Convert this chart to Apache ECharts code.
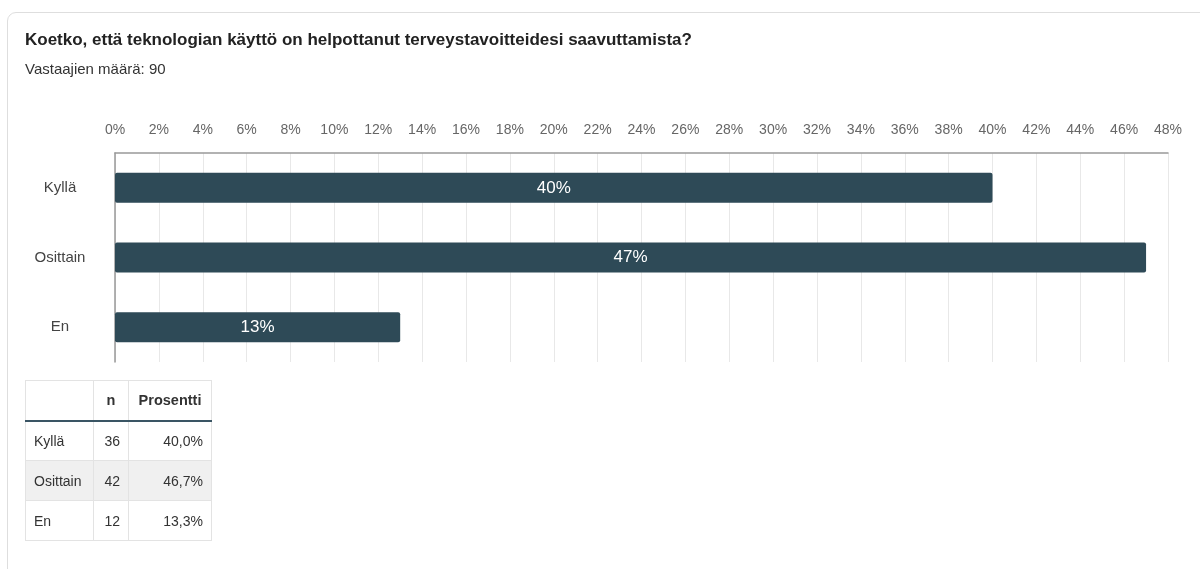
<!DOCTYPE html>
<html>
<head>
<meta charset="utf-8">
<script src="https://cdn.jsdelivr.net/npm/echarts@6/dist/echarts.min.js"></script>
<style>
  html, body { margin: 0; padding: 0; background: #fff; }
  body { width: 1200px; height: 569px; position: relative; overflow: hidden; font-family: "Liberation Sans", Arial, sans-serif; }
  #card { position: absolute; left: 7px; top: 12px; width: 1300px; height: 700px; border: 1px solid #dedede; border-radius: 9px; box-sizing: border-box; }
  #chart { position: absolute; left: 0; top: 0; width: 1200px; height: 569px; }
  #tbl { position: absolute; left: 25px; top: 380px; border-collapse: collapse; font-size: 14px; color: #333; }
  #tbl th, #tbl td { border: 1px solid #e3e3e3; height: 40px; padding: 0 8px; box-sizing: border-box; }
  #tbl th { font-weight: bold; font-size: 14.5px; border-bottom: 2px solid #3a5564; }
  #tbl td.num { text-align: right; }
  #tbl tr.alt td { background: #f0f0f0; }
</style>
</head>
<body>
<div id="card"></div>
<div id="chart"></div>
<table id="tbl"></table>
<script>
// Survey answers
const categories = ['Kyllä', 'Osittain', 'En'];
const barPercent = [40, 47, 13];          // rounded shares shown on the bars
const counts = [36, 42, 12];
const percentText = ['40,0%', '46,7%', '13,3%'];
const respondents = 90;
const tickMax = 48;
const tickStep = 2;

const chart = echarts.init(document.getElementById('chart'), null, { renderer: 'canvas' });
chart.setOption({
  animation: false,
  textStyle: { fontFamily: 'Liberation Sans, Arial, sans-serif' },
  title: {
    text: 'Koetko, että teknologian käyttö on helpottanut terveystavoitteidesi saavuttamista?',
    subtext: 'Vastaajien määrä: ' + respondents,
    left: 20,
    top: 27,
    itemGap: 13,
    textStyle: { fontSize: 17, fontWeight: 'bold', color: '#222' },
    subtextStyle: { fontSize: 15, color: '#333' }
  },
  grid: { left: 115, right: 32, top: 153, height: 209, containLabel: false },
  xAxis: {
    type: 'value',
    position: 'top',
    min: 0,
    max: tickMax,
    interval: tickStep,
    axisLine: { show: true, lineStyle: { color: '#999', width: 1.5 } },
    axisTick: { show: false },
    axisLabel: { formatter: '{value}%', color: '#666', fontSize: 14, margin: 16 },
    splitLine: { show: true, lineStyle: { color: '#e8e8e8', width: 1 } }
  },
  yAxis: {
    type: 'category',
    data: categories,
    inverse: true,
    axisLine: { show: true, lineStyle: { color: '#999', width: 1.5 } },
    axisTick: { show: false },
    axisLabel: { color: '#444', fontSize: 15, width: 90, align: 'center', margin: 55 }
  },
  series: [{
    type: 'bar',
    data: barPercent,
    barWidth: 30,
    itemStyle: { color: '#2e4a57', borderRadius: 2 },
    label: {
      show: true,
      position: 'inside',
      color: '#fff',
      fontSize: 17,
      formatter: p => p.value + '%'
    }
  }]
});

// Frequency table under the chart
const tbl = document.getElementById('tbl');
let html = '<tr><th style="width:68px"></th><th style="width:35px">n</th><th style="width:83px">Prosentti</th></tr>';
categories.forEach((c, i) => {
  html += '<tr' + (i === 1 ? ' class="alt"' : '') + '><td>' + c + '</td><td class="num">' + counts[i] +
          '</td><td class="num">' + percentText[i] + '</td></tr>';
});
tbl.innerHTML = html;
</script>
</body>
</html>
